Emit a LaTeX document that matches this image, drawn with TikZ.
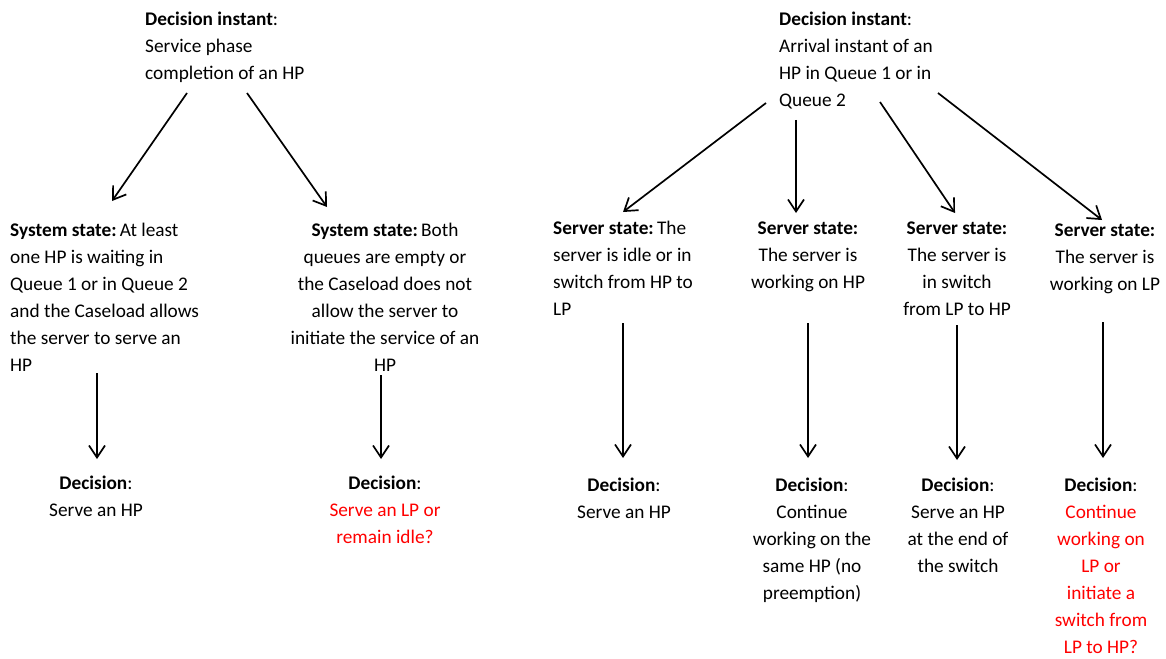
\documentclass[tikz,border=0pt]{standalone}
\usepackage{fontspec}
\setmainfont{Carlito}
\usetikzlibrary{arrows.meta}
\begin{document}
\begin{tikzpicture}[x=1pt,y=-1pt,
  txt/.style={inner sep=0pt, font=\fontsize{19.3}{27}\selectfont},
  lt/.style={txt, align=left, anchor=north west},
  ct/.style={txt, align=center, anchor=north},
  arr/.style={line width=1.7pt, -{Straight Barb[length=12pt,width=16pt]}}]
\useasboundingbox[fill=white] (0,0) rectangle (1166,658);

% left half
\node[lt] (top1) at (145,6) {\strut\textbf{Decision instant}:\\Service phase\\completion of an HP};
\node[lt] (ss1) at (10,217) {\strut\textbf{System state:}\,At least\\one HP is waiting in\\Queue 1 or in Queue 2\\and the Caseload allows\\the server to serve an\\HP};
\node[ct] (ss2) at (385,217) {\strut\textbf{System state:}\,Both\\queues are empty or\\the Caseload does not\\allow the server to\\initiate the service of an\\HP};
\node[ct] (d1) at (96,470) {\strut\textbf{Decision}:\\Serve an HP};
\node[ct] (d2) at (385,470) {\strut\textbf{Decision}:\\\textcolor{red}{Serve an LP or}\\\textcolor{red}{remain idle?}};

% right half
\node[lt] (top2) at (779,6) {\strut\textbf{Decision instant}:\\Arrival instant of an\\HP in Queue 1 or in\\Queue 2};
\node[lt] (sA) at (553,215) {\strut\textbf{Server state:}\,The\\server is idle or in\\switch from HP to\\LP};
\node[ct] (sB) at (808,215) {\strut\textbf{Server state:}\\The server is\\working on HP};
\node[ct] (sC) at (957,215) {\strut\textbf{Server state:}\\The server is\\in switch\\from LP to HP};
\node[ct] (sD) at (1105,217) {\strut\textbf{Server state:}\\The server is\\working on LP};
\node[ct] (dA) at (624,472) {\strut\textbf{Decision}:\\Serve an HP};
\node[ct] (dB) at (812,472) {\strut\textbf{Decision}:\\Continue\\working on the\\same HP (no\\preemption)};
\node[ct] (dC) at (958,472) {\strut\textbf{Decision}:\\Serve an HP\\at the end of\\the switch};
\node[ct] (dD) at (1101,472) {\strut\textbf{Decision}:\\\textcolor{red}{Continue}\\\textcolor{red}{working on}\\\textcolor{red}{LP or}\\\textcolor{red}{initiate a}\\\textcolor{red}{switch from}\\\textcolor{red}{LP to HP?}};

% connectors, left
\draw[arr] ([shift={(42,87)}]top1.north west) -- ([shift={(102,-16)}]ss1.north west);
\draw[arr] ([shift={(102,87)}]top1.north west) -- ([shift={(-58,-10)}]ss2.north);
\draw[arr] ([shift={(87,156)}]ss1.north west) -- ([shift={(1,-11)}]d1.north);
\draw[arr] ([shift={(-4,158)}]ss2.north) -- ([shift={(-4,-11)}]d2.north);

% connectors, right
\draw[arr] ([shift={(-13,97)}]top2.north west) -- ([shift={(70,-3)}]sA.north west);
\draw[arr] ([shift={(17,114)}]top2.north west) -- ([shift={(-12,-2)}]sB.north);
\draw[arr] ([shift={(101,96)}]top2.north west) -- ([shift={(-2,-2)}]sC.north);
\draw[arr] ([shift={(159,87)}]top2.north west) -- ([shift={(-3,3)}]sD.north);
\draw[arr] ([shift={(70,108)}]sA.north west) -- ([shift={(-1,-14)}]dA.north);
\draw[arr] ([shift={(0,108)}]sB.north) -- ([shift={(-4,-14)}]dB.north);
\draw[arr] ([shift={(0,110)}]sC.north) -- ([shift={(-1,-12)}]dC.north);
\draw[arr] ([shift={(-2,105)}]sD.north) -- ([shift={(2,-14)}]dD.north);
\end{tikzpicture}
\end{document}
